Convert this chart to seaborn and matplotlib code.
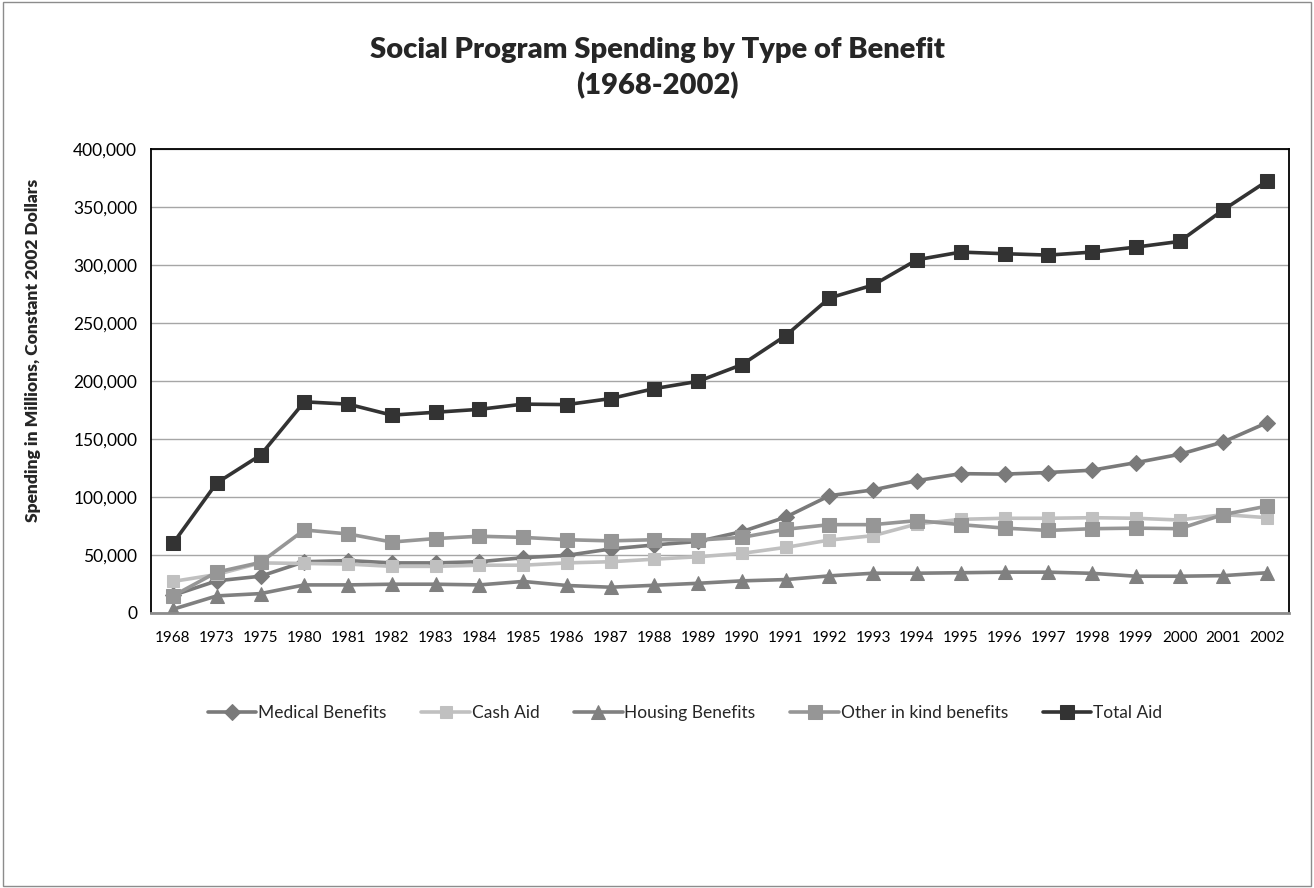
import matplotlib
matplotlib.use("Agg")
import matplotlib.pyplot as plt
import seaborn as sns
import pandas as pd
from matplotlib.ticker import FuncFormatter, MultipleLocator
from matplotlib.patches import Rectangle

years = ["1968", "1973", "1975", "1980", "1981", "1982", "1983", "1984", "1985", "1986",
         "1987", "1988", "1989", "1990", "1991", "1992", "1993", "1994", "1995", "1996",
         "1997", "1998", "1999", "2000", "2001", "2002"]

medical = [15000, 27500, 31500, 44000, 45000, 43000, 43000, 44000, 47500, 49500,
           55000, 58500, 61500, 70000, 82500, 101000, 106000, 114000, 120000, 119600,
           121000, 123000, 129500, 136700, 147400, 164000]
cash = [27000, 33000, 43000, 42500, 42000, 40000, 40000, 41000, 41000, 43000,
        44000, 46200, 48300, 51200, 56400, 62700, 66500, 76600, 80600, 81500,
        81500, 82000, 81500, 80000, 84700, 82000]
housing = [3000, 14500, 16500, 24000, 24000, 24600, 24600, 24000, 27000, 23500,
           22000, 23700, 25400, 27500, 28600, 31800, 34100, 34100, 34500, 35000,
           35000, 34000, 31500, 31500, 32000, 34500]
other = [14500, 35000, 43400, 71400, 68000, 61000, 64000, 66000, 65000, 63000,
         62000, 63000, 62700, 65000, 72000, 76000, 76000, 79500, 76000, 73000,
         71000, 72500, 73000, 72500, 84700, 92000]
total = [59800, 112000, 136000, 182000, 180000, 170500, 173000, 175500, 180000, 179600,
         184800, 193400, 199700, 214100, 239100, 271600, 282800, 304600, 311200, 309800,
         308600, 311200, 315500, 320400, 347700, 372500]

series_names = ["Medical Benefits", "Cash Aid", "Housing Benefits", "Other in kind benefits", "Total Aid"]
series_values = [medical, cash, housing, other, total]
colors = ["#7a7a7a", "#c0c0c0", "#808080", "#969696", "#333333"]
markers = ["D", "s", "^", "s", "s"]
msizes = [8, 9, 9.5, 9.5, 10]

sns.set_theme(style="white")
plt.rcParams["font.family"] = ["Lato", "DejaVu Sans"]

fig = plt.figure(figsize=(13.14, 8.88), dpi=100)
ax = fig.add_axes([0.115, 0.310, 0.866, 0.522])

for name, vals, c, m, ms in zip(series_names, series_values, colors, markers, msizes):
    df = pd.DataFrame({"Year": years, "Value": vals})
    sns.lineplot(data=df, x="Year", y="Value", ax=ax, color=c, marker=m, markersize=ms,
                 markeredgecolor=c, linewidth=2.6, label=name, sort=False)

ax.set_xlim(-0.5, len(years) - 0.5)
ax.set_ylim(0, 400000)
ax.yaxis.set_major_locator(MultipleLocator(50000))
ax.yaxis.set_major_formatter(FuncFormatter(lambda v, p: f"{int(v):,}"))
ax.grid(axis="y", color="#a6a6a6", linewidth=1.0)
ax.set_axisbelow(True)
for s in ["left", "top", "right"]:
    ax.spines[s].set_color("#000000")
    ax.spines[s].set_linewidth(1.3)
ax.spines["bottom"].set_color("#8c8c8c")
ax.spines["bottom"].set_linewidth(2)
ax.tick_params(axis="x", labelsize=11, colors="#000000", length=0, pad=13)
ax.tick_params(axis="y", labelsize=12.5, colors="#000000", length=0, pad=10)
ax.set_xlabel("")
ax.set_ylabel("Spending in Millions, Constant 2002 Dollars", fontsize=12.5, fontweight="heavy")
ax.yaxis.set_label_coords(-0.0967, 0.567)

fig.suptitle("Social Program Spending by Type of Benefit\n(1968-2002)", fontsize=21, fontweight="heavy",
             y=0.958, linespacing=1.4)

handles, labels = ax.get_legend_handles_labels()
ax.get_legend().remove()
fig.legend(handles, labels, loc="center", bbox_to_anchor=(685 / 1314, 1 - 713 / 888), ncol=5,
           frameon=False, fontsize=12.5, handlelength=2.8, columnspacing=2.0, handletextpad=0.1)

fig.patches.append(Rectangle((0.002, 0.002), 0.996, 0.996, transform=fig.transFigure,
                             fill=False, edgecolor="#8c8c8c", linewidth=1))

fig.savefig("out.png", dpi=100)
